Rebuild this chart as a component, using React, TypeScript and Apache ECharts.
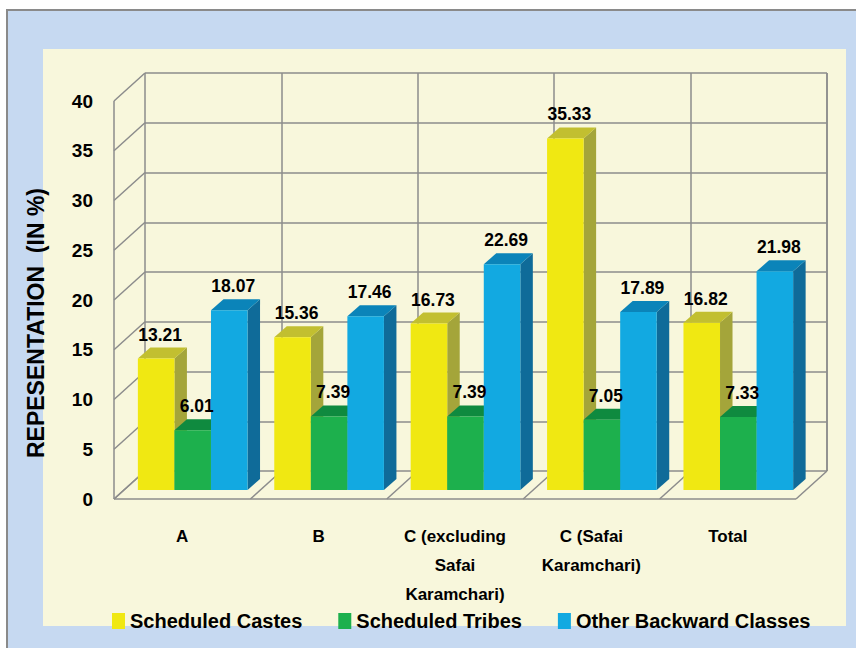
import React, { useEffect, useRef } from "react";
import * as echarts from "echarts";

const categories = [
  "A",
  "B",
  "C (excluding\nSafai\nKaramchari)",
  "C (Safai\nKaramchari)",
  "Total",
];
const scheduledCastes = [13.21, 15.36, 16.73, 35.33, 16.82];
const scheduledTribes = [6.01, 7.39, 7.39, 7.05, 7.33];
const otherBackward = [18.07, 17.46, 22.69, 17.89, 21.98];
const seriesNames = ["Scheduled Castes", "Scheduled Tribes", "Other Backward Classes"];
const yMin = 0;
const yMax = 40;
const yInterval = 5;

const FONT = "'Liberation Sans', Arial, sans-serif";
const GRID_COLOR = "#8c8c8c";

const palettes = [
  { front: "#f0e812", top: "#c2bf30", side: "#a4a53a" },
  { front: "#1db04d", top: "#0f8a3f", side: "#138a40" },
  { front: "#12a9e1", top: "#0b84b9", side: "#0f6b99" },
];

// 3D geometry offsets (px)
const WALL_DX = 31;
const WALL_DY = 28;
const BAR_DX = 12.5;
const BAR_DY = 11;
const BAR_FRAC = 0.268;

function barRenderer(k: number) {
  const pal = palettes[k];
  return (params: any, api: any) => {
    const cat = api.value(0);
    const val = api.value(1);
    const top = api.coord([cat, val]);
    const base = api.coord([cat, 0]);
    const band = api.size([1, 0])[0];
    const bw = band * BAR_FRAC;
    const x0 = top[0] + (k - 1 - 0.5) * bw;
    const x1 = x0 + bw;
    const yT = top[1];
    const yB = base[1];
    return {
      type: "group",
      children: [
        {
          type: "polygon",
          shape: { points: [[x1, yT], [x1 + BAR_DX, yT - BAR_DY], [x1 + BAR_DX, yB - BAR_DY], [x1, yB]] },
          style: { fill: pal.side },
        },
        {
          type: "polygon",
          shape: { points: [[x0, yT], [x1, yT], [x1 + BAR_DX, yT - BAR_DY], [x0 + BAR_DX, yT - BAR_DY]] },
          style: { fill: pal.top },
        },
        {
          type: "rect",
          shape: { x: x0, y: yT, width: bw, height: yB - yT },
          style: { fill: pal.front },
        },
      ],
    };
  };
}

function labelRenderer(params: any, api: any) {
  const cat = api.value(0);
  const val = api.value(1);
  const k = api.value(2);
  const top = api.coord([cat, val]);
  const band = api.size([1, 0])[0];
  const bw = band * BAR_FRAC;
  return {
    type: "text",
    x: top[0] + (k - 1) * bw + 4,
    y: top[1] - 24,
    style: {
      text: Number(val).toFixed(2),
      fill: "#000",
      fontSize: 17.5,
      fontWeight: "bold",
      fontFamily: FONT,
      align: "center",
      verticalAlign: "middle",
    },
  };
}

function wallRenderer(params: any, api: any) {
  const cs = params.coordSys;
  const x = cs.x, y = cs.y, w = cs.width, h = cs.height;
  const lineStyle = { stroke: GRID_COLOR, lineWidth: 1.5 };
  const children: any[] = [];
  for (let v = yMin; v <= yMax; v += yInterval) {
    const py = api.coord([0, v])[1];
    children.push({
      type: "line",
      shape: { x1: x, y1: py, x2: x - WALL_DX, y2: py + WALL_DY },
      style: lineStyle,
    });
  }
  const py0 = api.coord([0, yMin])[1];
  const pyMax = api.coord([0, yMax])[1];
  children.push({
    type: "line",
    shape: { x1: x - WALL_DX, y1: pyMax + WALL_DY, x2: x - WALL_DX, y2: py0 + WALL_DY },
    style: lineStyle,
  });
  const n = categories.length;
  for (let i = 0; i <= n; i++) {
    const px = x + (i * w) / n;
    children.push({
      type: "line",
      shape: { x1: px, y1: py0, x2: px - WALL_DX, y2: py0 + WALL_DY },
      style: lineStyle,
    });
  }
  children.push({
    type: "line",
    shape: { x1: x - WALL_DX, y1: py0 + WALL_DY, x2: x + w - WALL_DX, y2: py0 + WALL_DY },
    style: lineStyle,
  });
  children.push({
    type: "line",
    shape: { x1: x + w, y1: y, x2: x + w, y2: y + h },
    style: lineStyle,
  });
  return { type: "group", children };
}

export default function App() {
  const ref = useRef<HTMLDivElement>(null);
  useEffect(() => {
    if (!ref.current) return;
    const chart = echarts.init(ref.current, null, { renderer: "svg" });
    const allSeries = [scheduledCastes, scheduledTribes, otherBackward];
    const labelData: any[] = [];
    allSeries.forEach((arr, k) => arr.forEach((v, i) => labelData.push([i, v, k])));

    const valueAxisBase = {
      type: "value",
      min: yMin,
      max: yMax,
      interval: yInterval,
      axisLine: { show: false },
      axisTick: { show: false },
    };
    const catAxisBase = {
      type: "category",
      data: categories,
      axisLine: { show: false },
      axisTick: { show: false },
    };

    chart.setOption({
      animation: false,
      backgroundColor: "#ffffff",
      graphic: [
        {
          type: "rect",
          z: -10,
          shape: { x: 7, y: 10, width: 860, height: 650 },
          style: { fill: "#c6d9f1", stroke: "#8a8a8a", lineWidth: 2 },
        },
        {
          type: "rect",
          z: -9,
          shape: { x: 43, y: 49, width: 803, height: 577 },
          style: { fill: "#f8f7dc" },
        },
        {
          type: "text",
          z: 5,
          x: 36,
          y: 323,
          rotation: Math.PI / 2,
          style: {
            text: "REPESENTATION  (IN %)",
            fill: "#000",
            fontSize: 23,
            fontWeight: "bold",
            fontFamily: FONT,
            align: "center",
            verticalAlign: "middle",
          },
        },
      ],
      grid: [
        { left: 145, top: 73, width: 682, height: 398 },
        { left: 114, top: 101, width: 682, height: 398 },
        { left: 124.5, top: 92, width: 682, height: 398 },
      ],
      xAxis: [
        {
          ...catAxisBase,
          gridIndex: 0,
          axisLabel: { show: false },
          splitLine: { show: true, interval: 0, lineStyle: { color: GRID_COLOR, width: 1.5 } },
        },
        {
          ...catAxisBase,
          gridIndex: 1,
          axisLabel: {
            interval: 0,
            margin: 23,
            color: "#000",
            fontSize: 17,
            lineHeight: 29,
            fontWeight: "bold",
            fontFamily: FONT,
          },
          splitLine: { show: false },
        },
        {
          ...catAxisBase,
          gridIndex: 2,
          axisLabel: { show: false },
          splitLine: { show: false },
        },
      ],
      yAxis: [
        {
          ...valueAxisBase,
          gridIndex: 0,
          axisLabel: { show: false },
          splitLine: { show: true, lineStyle: { color: GRID_COLOR, width: 1.5 } },
        },
        {
          ...valueAxisBase,
          gridIndex: 1,
          axisLabel: {
            margin: 21,
            color: "#000",
            fontSize: 19,
            fontWeight: "bold",
            fontFamily: FONT,
          },
          splitLine: { show: false },
        },
        {
          ...valueAxisBase,
          gridIndex: 2,
          axisLabel: { show: false },
          splitLine: { show: false },
        },
      ],
      legend: {
        data: seriesNames.map((n) => ({ name: n, icon: "rect" })),
        left: 107,
        top: 605,
        itemWidth: 13,
        itemHeight: 16,
        itemGap: 36,
        textStyle: { color: "#000", fontSize: 20, fontWeight: "bold", fontFamily: FONT, lineHeight: 22 },
      },
      series: [
        {
          type: "custom",
          name: "walls",
          xAxisIndex: 0,
          yAxisIndex: 0,
          z: 1,
          silent: true,
          data: [[0, 0]],
          renderItem: wallRenderer,
        },
        ...allSeries.map((arr, k) => ({
          type: "custom",
          name: seriesNames[k],
          xAxisIndex: 2,
          yAxisIndex: 2,
          z: 2,
          itemStyle: { color: palettes[k].front },
          encode: { x: 0, y: 1 },
          data: arr.map((v, i) => [i, v]),
          renderItem: barRenderer(k),
        })),
        {
          type: "custom",
          name: "labels",
          xAxisIndex: 2,
          yAxisIndex: 2,
          z: 4,
          silent: true,
          encode: { x: 0, y: 1 },
          data: labelData,
          renderItem: labelRenderer,
        },
      ],
    });
    return () => chart.dispose();
  }, []);
  return (
    <div
      ref={ref}
      style={{ position: "fixed", left: 0, top: 0, width: 856, height: 648 }}
    />
  );
}
